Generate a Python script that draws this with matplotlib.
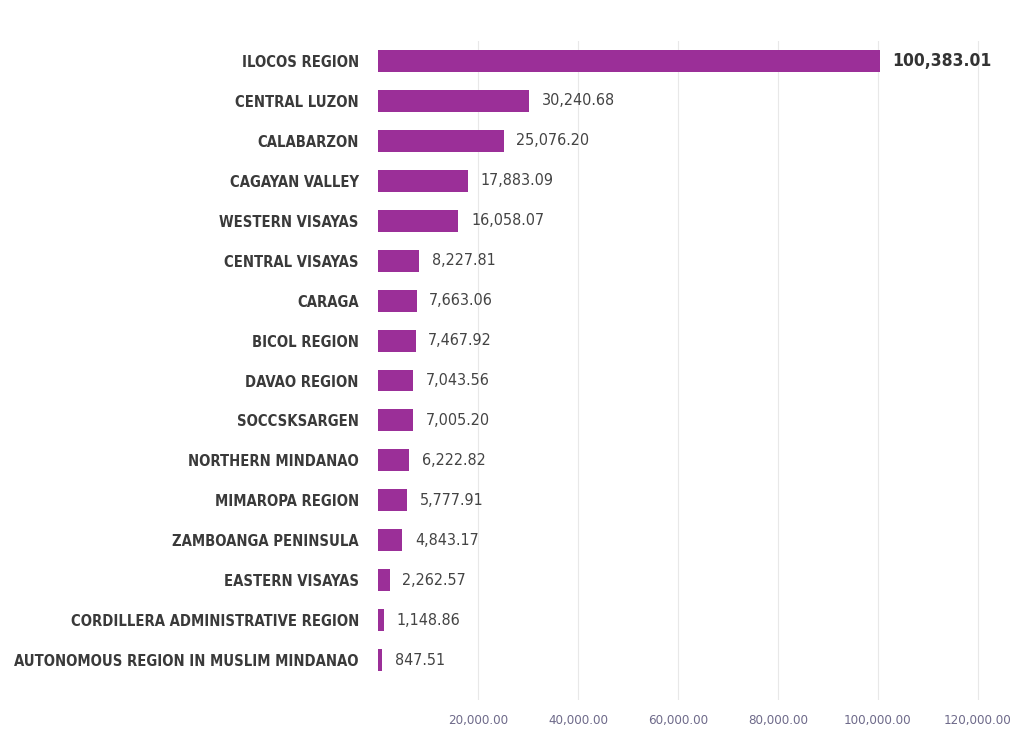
import numpy as np
import matplotlib.pyplot as plt

regions = ["ILOCOS REGION", "CENTRAL LUZON", "CALABARZON", "CAGAYAN VALLEY",
           "WESTERN VISAYAS", "CENTRAL VISAYAS", "CARAGA", "BICOL REGION",
           "DAVAO REGION", "SOCCSKSARGEN", "NORTHERN MINDANAO", "MIMAROPA REGION",
           "ZAMBOANGA PENINSULA", "EASTERN VISAYAS", "CORDILLERA ADMINISTRATIVE REGION",
           "AUTONOMOUS REGION IN MUSLIM MINDANAO"]
values = [100383.01, 30240.68, 25076.20, 17883.09, 16058.07, 8227.81, 7663.06,
          7467.92, 7043.56, 7005.20, 6222.82, 5777.91, 4843.17, 2262.57,
          1148.86, 847.51]
xticks = [20000, 40000, 60000, 80000, 100000, 120000]

fam = "DejaVu Sans"
st = "condensed"

fig = plt.figure(figsize=(10.25, 7.33), dpi=100)
ax = fig.add_axes([0.369, 0.045, 0.619, 0.899])

y = np.arange(len(regions))
ax.barh(y, values, height=0.55, color="#9b2f98", zorder=2)
ax.set_ylim(16.0, -0.5)
ax.set_xlim(0, 127000)

ax.set_yticks(y)
ax.set_yticklabels(regions, fontsize=10.6, fontweight="bold", color="#3a3a3a",
                   family=fam, fontstretch=st)
ax.tick_params(axis="y", length=0, pad=14)

ax.set_xticks(xticks)
ax.set_xticklabels(["{:,.2f}".format(v) for v in xticks], fontsize=9.5,
                   color="#6e6a8a", family=fam, fontstretch=st)
ax.tick_params(axis="x", length=0, pad=10)

for i, v in enumerate(values):
    if i == 0:
        ax.text(v + 2500, i, "{:,.2f}".format(v), va="center", ha="left",
                fontsize=12.5, fontweight="bold", color="#333333",
                family=fam, fontstretch=st)
    else:
        ax.text(v + 2500, i, "{:,.2f}".format(v), va="center", ha="left",
                fontsize=11.5, color="#444444", family=fam, fontstretch=st)

ax.grid(axis="x", color="#e8e8e8", linewidth=0.8, zorder=0)
for s in ax.spines.values():
    s.set_visible(False)

fig.savefig("out.png", dpi=100)
